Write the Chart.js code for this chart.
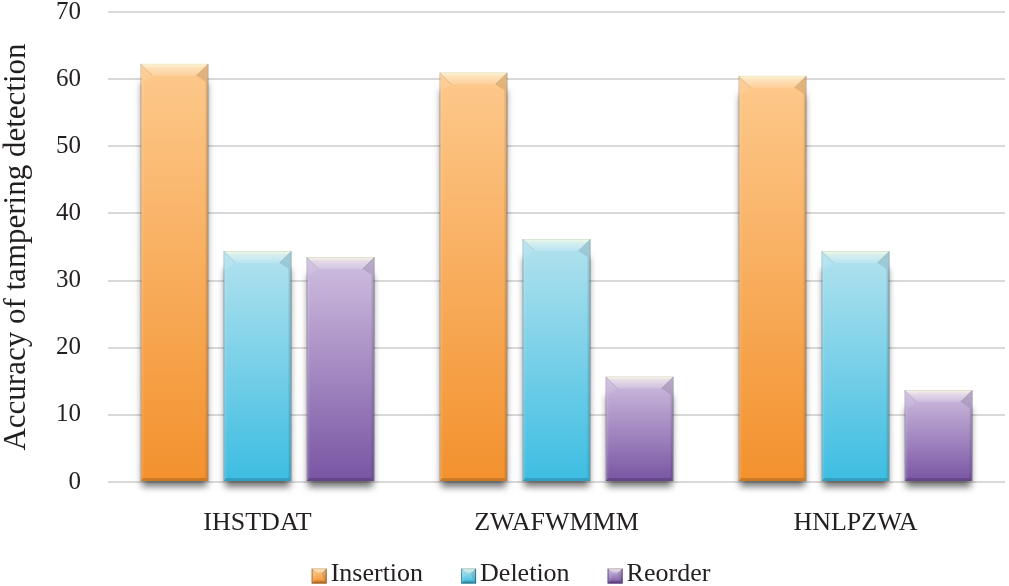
<!DOCTYPE html>
<html>
<head>
<meta charset="utf-8">
<script src="https://cdn.jsdelivr.net/npm/chart.js@4"></script>
<style>
html,body{margin:0;padding:0;background:#fff}
#wrap{width:1009px;height:586px}
</style>
</head>
<body>
<div id="wrap"><canvas id="chart"></canvas></div>
<script>
const categories=['IHSTDAT','ZWAFWMMM','HNLPZWA'];
const insertion=[62.3,61.0,60.5];
const deletion=[34.4,36.2,34.4];
const reorder=[33.5,15.7,13.7];
const yTicks=[0,10,20,30,40,50,60,70];
const yTitle='Accuracy of tampering detection';

const SERIF='"Liberation Serif","Times New Roman",serif';
const TEXT='#231f20';

// top / bottom colours of each series gradient
const shades={
  Insertion:{top:'#fdc98c',bottom:'#f3912d',flat:'#f6a24a',line:'rgba(150,95,40,0.85)'},
  Deletion:{top:'#b3e2ee',bottom:'#3cbde2',flat:'#5ec8e6',line:'rgba(40,115,140,0.85)'},
  Reorder:{top:'#d0bfe0',bottom:'#7854a3',flat:'#9478bb',line:'rgba(85,55,120,0.85)'}
};

function barFill(name){
  return function(c){
    const s=shades[name];
    const chart=c.chart;
    const ys=chart.scales && chart.scales.y;
    if(!ys || c.raw===undefined) return s.flat;
    const top=ys.getPixelForValue(c.raw);
    const base=ys.getPixelForValue(0);
    if(!isFinite(top)||!isFinite(base)||base-top<1) return s.flat;
    const g=chart.ctx.createLinearGradient(0,top,0,base);
    g.addColorStop(0,s.top);
    g.addColorStop(1,s.bottom);
    return g;
  };
}

function makeSet(name,values){
  return {
    label:name,
    data:values,
    backgroundColor:barFill(name),
    borderColor:shades[name].line,
    borderWidth:1
  };
}

function bevelBox(ctx,l,t,r,b,d){
  ctx.save();
  let g=ctx.createLinearGradient(0,t,0,t+d);
  g.addColorStop(0,'rgba(255,255,225,0.85)');
  g.addColorStop(0.35,'rgba(255,255,240,0.45)');
  g.addColorStop(1,'rgba(255,255,255,0.15)');
  ctx.fillStyle=g;
  ctx.beginPath();
  ctx.moveTo(l,t);ctx.lineTo(r,t);ctx.lineTo(r-d,t+d);ctx.lineTo(l+d,t+d);ctx.closePath();
  ctx.fill();
  ctx.fillStyle='rgba(255,255,255,0.10)';
  ctx.beginPath();
  ctx.moveTo(l,t);ctx.lineTo(l+d,t+d);ctx.lineTo(l+3,t+d+6);ctx.lineTo(l+3,b-3);ctx.lineTo(l,b);ctx.closePath();
  ctx.fill();
  ctx.fillStyle='rgba(0,0,0,0.10)';
  ctx.beginPath();
  ctx.moveTo(r,t);ctx.lineTo(r-d,t+d);ctx.lineTo(r-3,t+d+6);ctx.lineTo(r-3,b-3);ctx.lineTo(r,b);ctx.closePath();
  ctx.fill();
  ctx.fillStyle='rgba(0,0,0,0.16)';
  ctx.beginPath();
  ctx.moveTo(l,b);ctx.lineTo(r,b);ctx.lineTo(r-3,b-3);ctx.lineTo(l+3,b-3);ctx.closePath();
  ctx.fill();
  ctx.strokeStyle='rgba(0,0,0,0.12)';
  ctx.lineWidth=1;
  ctx.beginPath();
  ctx.moveTo(l+0.5,t+0.5);ctx.lineTo(l+d,t+d);
  ctx.moveTo(r-0.5,t+0.5);ctx.lineTo(r-d,t+d);
  ctx.stroke();
  ctx.restore();
}

const MARK_SHIFT=17;

// drop shadow under each bar, bevel on top, and the legend markers
const bevel={
  id:'bevel',
  beforeDatasetsDraw(chart){
    const ctx=chart.ctx;
    chart.data.datasets.forEach((ds,i)=>{
      chart.getDatasetMeta(i).data.forEach(bar=>{
        const p=bar.getProps(['x','y','base','width'],true);
        const l=p.x-p.width/2;
        ctx.save();
        ctx.shadowColor='rgba(0,0,0,0.55)';
        ctx.shadowBlur=7;
        ctx.shadowOffsetY=6;
        ctx.fillStyle='#777';
        ctx.fillRect(l+2,p.y+12,p.width-4,p.base-p.y-12);
        ctx.restore();
      });
    });
  },
  afterDatasetsDraw(chart){
    const ctx=chart.ctx;
    chart.data.datasets.forEach((ds,i)=>{
      chart.getDatasetMeta(i).data.forEach(bar=>{
        const p=bar.getProps(['x','y','base','width'],true);
        bevelBox(ctx,p.x-p.width/2,p.y,p.x+p.width/2,p.base,Math.min(12,(p.base-p.y)/3));
      });
    });
  },
  afterDraw(chart){
    const ctx=chart.ctx;
    const boxes=chart.legend.legendHitBoxes||[];
    boxes.forEach((hb,i)=>{
      const s=shades[chart.data.datasets[i].label];
      const size=15;
      const l=hb.left+MARK_SHIFT, t=hb.top+hb.height/2-size/2+2;
      ctx.save();
      const g=ctx.createLinearGradient(0,t,0,t+size);
      g.addColorStop(0,s.top);
      g.addColorStop(1,s.bottom);
      ctx.fillStyle=g;
      ctx.fillRect(l,t,size,size);
      ctx.strokeStyle=s.line;
      ctx.lineWidth=1;
      ctx.strokeRect(l+0.5,t+0.5,size-1,size-1);
      ctx.restore();
      bevelBox(ctx,l,t,l+size,t+size,5);
    });
  }
};

new Chart(document.getElementById('chart'),{
  type:'bar',
  data:{
    labels:categories,
    datasets:[makeSet('Insertion',insertion),makeSet('Deletion',deletion),makeSet('Reorder',reorder)]
  },
  plugins:[bevel],
  options:{
    responsive:true,
    maintainAspectRatio:false,
    animation:false,
    categoryPercentage:0.833,
    barPercentage:0.82,
    layout:{padding:{top:0,right:4,bottom:-11,left:0}},
    plugins:{
      tooltip:{enabled:false},
      legend:{
        position:'bottom',
        labels:{
          font:{family:SERIF,size:26},
          color:TEXT,
          boxWidth:6+MARK_SHIFT,
          boxHeight:15,
          padding:21,
          generateLabels(chart){
            return chart.data.datasets.map((ds,i)=>({
              text:ds.label,
              fillStyle:'rgba(0,0,0,0)',
              strokeStyle:'rgba(0,0,0,0)',
              lineWidth:0,
              fontColor:TEXT,
              datasetIndex:i
            }));
          }
        }
      }
    },
    scales:{
      x:{
        grid:{display:false},
        border:{display:false},
        ticks:{font:{family:SERIF,size:26},color:TEXT,padding:18},
        afterFit(scale){scale.height=58;}
      },
      y:{
        min:0,
        max:70,
        afterBuildTicks(scale){scale.ticks=yTicks.map(v=>({value:v}));},
        afterFit(scale){scale.width=108;scale.paddingTop=12;scale.paddingBottom=12;},
        grid:{color:'#d9d9d9',lineWidth:2,drawTicks:false},
        border:{display:false},
        ticks:{font:{family:SERIF,size:25,lineHeight:1},color:TEXT,padding:27},
        title:{
          display:true,
          text:yTitle,
          font:{family:SERIF,size:31,lineHeight:1.1},
          color:TEXT,
          padding:{top:0,bottom:6}
        }
      }
    }
  }
});
</script>
</body>
</html>
